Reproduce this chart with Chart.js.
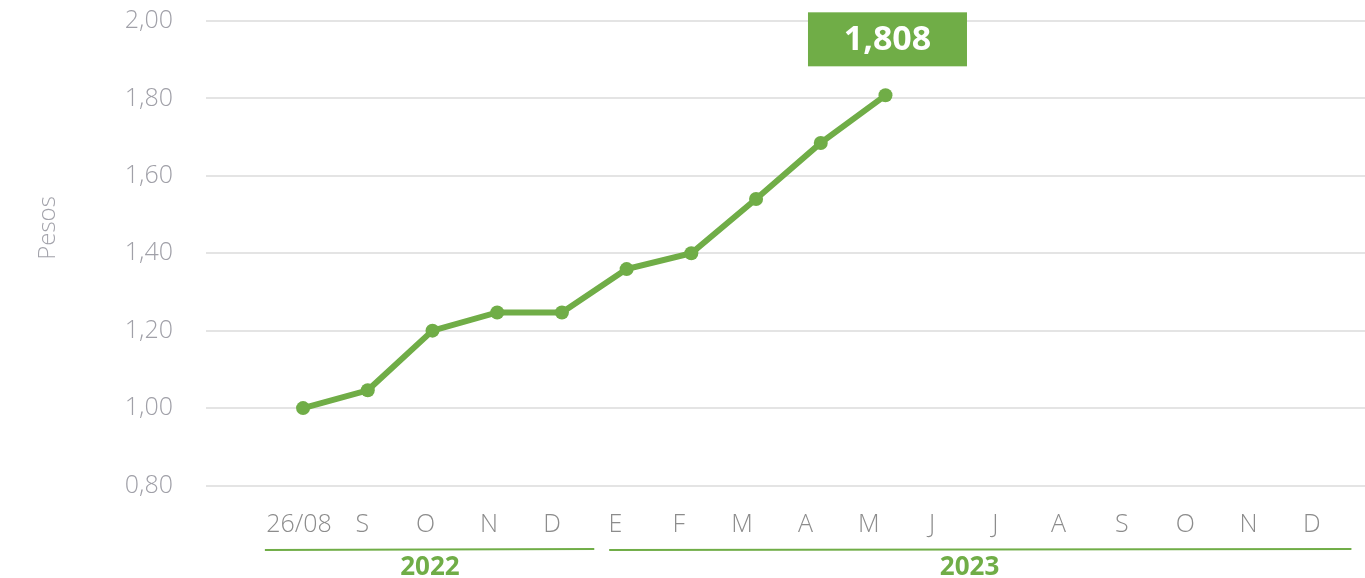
<!DOCTYPE html>
<html>
<head>
<meta charset="utf-8">
<script src="https://cdn.jsdelivr.net/npm/chart.js@4.4.1/dist/chart.umd.min.js"></script>
<style>
html,body{margin:0;padding:0;background:#fff;}
#wrap{width:1365px;height:578px;position:relative;}
</style>
</head>
<body>
<div id="wrap"><canvas id="c" width="1365" height="578"></canvas></div>
<script>
const categories = ['26/08','S','O','N','D','E','F','M','A','M','J','J','A','S','O','N','D'];
const values = [1.000, 1.046, 1.200, 1.247, 1.247, 1.359, 1.400, 1.540, 1.685, 1.808];
const yTicks = [0.80, 1.00, 1.20, 1.40, 1.60, 1.80, 2.00];
const years = [
  {label:'2022', from:-0.59, to:4.5, center:1.96},
  {label:'2023', from:4.73, to:16.2, center:10.3}
];
const highlightLabel = '1,808';
const yTitle = 'Pesos';

const GREEN = '#70ad47';
const FONT = "'Open Sans', 'Noto Sans', sans-serif";

const points = values.map((v,i)=>({x:i, y:v}));

const decor = {
  id:'decor',
  afterDraw(chart){
    const ctx = chart.ctx;
    const xs = chart.scales.x, ys = chart.scales.y;
    ctx.save();
    years.forEach(y=>{
      const x1 = xs.getPixelForValue(y.from), x2 = xs.getPixelForValue(y.to);
      ctx.strokeStyle = GREEN; ctx.lineWidth = 2;
      ctx.beginPath(); ctx.moveTo(x1, 550); ctx.lineTo(x2, 549); ctx.stroke();
      ctx.fillStyle = GREEN;
      ctx.font = "bold 26px " + FONT;
      ctx.textAlign = 'center'; ctx.textBaseline = 'middle';
      ctx.fillText(y.label, xs.getPixelForValue(y.center), 568);
    });
    ctx.save();
    ctx.translate(48, 228);
    ctx.rotate(-Math.PI/2);
    ctx.fillStyle = '#a3a3ab';
    ctx.font = "300 24px " + FONT;
    ctx.textAlign = 'center'; ctx.textBaseline = 'middle';
    ctx.fillText(yTitle, 0, 0);
    ctx.restore();
    const last = values.length-1;
    const px = xs.getPixelForValue(last), py = ys.getPixelForValue(values[last]);
    const bw = 159, bh = 54;
    const bx = px - bw/2 + 2, by = py - 29 - bh;
    ctx.fillStyle = GREEN;
    ctx.fillRect(bx, by, bw, bh);
    ctx.fillStyle = '#fff';
    ctx.font = "bold 34px " + FONT;
    ctx.textAlign = 'center'; ctx.textBaseline = 'middle';
    ctx.fillText(highlightLabel, bx + bw/2, by + bh/2 + 1);
    ctx.restore();
  }
};

new Chart(document.getElementById('c'), {
  type:'line',
  data:{
    datasets:[{
      data: points,
      xAxisID:'x',
      borderColor: GREEN,
      backgroundColor: GREEN,
      borderWidth: 6,
      pointRadius: 7,
      pointBackgroundColor: GREEN,
      pointBorderWidth: 0,
      tension: 0,
      fill: false
    }]
  },
  options:{
    responsive:false,
    animation:false,
    layout:{autoPadding:false, padding:{top:21, right:0, bottom:0, left:0}},
    plugins:{legend:{display:false}, tooltip:{enabled:false}},
    scales:{
      x:{
        type:'linear',
        display:false,
        min:-1.5, max:16.41
      },
      xl:{
        type:'linear',
        position:'bottom',
        min:-1.469, max:16.84,
        grid:{display:false, drawTicks:false},
        border:{display:false},
        afterFit(s){ s.height = 92.5; s.paddingLeft = 0; s.paddingRight = 0; },
        afterBuildTicks(s){ s.ticks = categories.map((c,i)=>({value:i})); },
        ticks:{
          autoSkip:false, maxRotation:0, padding:24,
          color:'#8c8c8c',
          font:{family:FONT, size:25, weight:'300'},
          callback:(v)=>categories[v] ?? ''
        }
      },
      y:{
        min:0.8, max:2.0,
        grid:{color:'#e4e4e4', lineWidth:2, drawTicks:false},
        border:{display:false},
        afterFit(s){ s.width = 206; s.paddingTop = 0; s.paddingBottom = 0; },
        afterBuildTicks(s){ s.ticks = yTicks.map(v=>({value:v})); },
        ticks:{
          padding:33,
          color:'#a0a0a8',
          font:{family:FONT, size:25, weight:'300'},
          callback:(v)=>v.toFixed(2).replace('.', ',')
        }
      }
    }
  },
  plugins:[decor]
});
</script>
</body>
</html>
